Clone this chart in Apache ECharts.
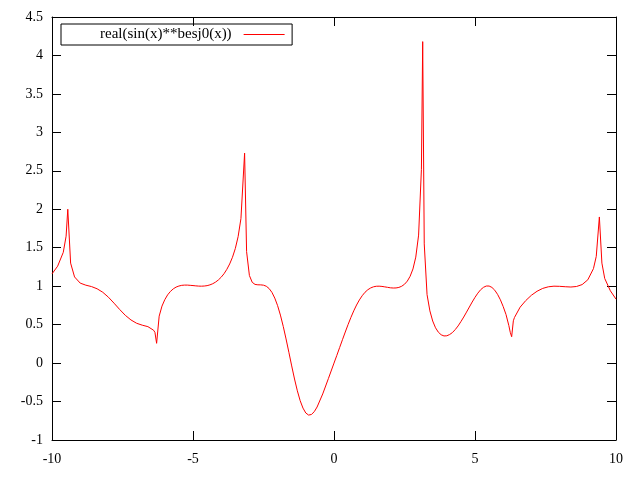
<!DOCTYPE html>
<html>
<head>
<meta charset="utf-8">
<script src="https://cdn.jsdelivr.net/npm/echarts@6/dist/echarts.min.js"></script>
<style>
html,body{margin:0;padding:0;background:#fff;}
#chart{width:640px;height:480px;}
</style>
</head>
<body>
<div id="chart"></div>
<script>
var seriesName = 'real(sin(x)**besj0(x))';
var xValues = [
  -10, -9.8, -9.6, -9.5, -9.44, -9.34, -9.2, -9.0, -8.8, -8.6, -8.4, -8.2, -8.0,
  -7.8, -7.6, -7.4, -7.2, -7.0, -6.8, -6.6, -6.4, -6.35, -6.29, -6.2, -6.1, -6.0,
  -5.9, -5.8, -5.7, -5.6, -5.5, -5.4, -5.3, -5.2, -5.1, -5.0, -4.9, -4.8, -4.7, -4.6,
  -4.5, -4.4, -4.3, -4.2, -4.1, -4.0, -3.9, -3.8, -3.7, -3.6, -3.5, -3.4,
  -3.3, -3.17, -3.1, -3.0, -2.9, -2.8, -2.7, -2.6, -2.5, -2.4, -2.3, -2.2, -2.1, -2.0,
  -1.9, -1.8, -1.7, -1.6, -1.5, -1.4, -1.3, -1.2, -1.1,
  -1.0, -0.9, -0.8, -0.7, -0.6, -0.4, -0.2, 0, 0.1, 0.2, 0.3, 0.4, 0.5, 0.6, 0.7, 0.8, 0.9,
  1.0, 1.1, 1.2, 1.3, 1.4, 1.5, 1.6, 1.7, 1.8, 1.9,
  2.0, 2.1, 2.2, 2.3, 2.4, 2.5, 2.6, 2.7, 2.8, 2.9, 3.0, 3.1, 3.145, 3.2, 3.3, 3.4, 3.5,
  3.6, 3.7, 3.8, 3.9, 4.0, 4.1, 4.2, 4.3, 4.4, 4.5, 4.6, 4.7, 4.8, 4.9, 5.0, 5.1, 5.2,
  5.3, 5.4, 5.5, 5.6, 5.7, 5.8, 5.9, 6.0, 6.1, 6.2, 6.25, 6.3, 6.36, 6.4,
  6.6, 6.8, 7.0, 7.2, 7.4, 7.6, 7.8, 8.0, 8.2, 8.4, 8.6, 8.8, 9.0, 9.2, 9.3,
  9.41, 9.5, 9.6, 9.8, 10
];
var yValues = [
  1.16, 1.26, 1.44, 1.65, 2.00, 1.30, 1.12, 1.04, 1.013, 0.995, 0.966, 0.921, 0.857,
  0.779, 0.697, 0.621, 0.561, 0.518, 0.493, 0.474, 0.428, 0.40, 0.257, 0.61, 0.741, 0.825,
  0.887, 0.932, 0.965, 0.988, 1.002, 1.011, 1.014, 1.014, 1.011, 1.008, 1.004, 1.001, 1.000, 1.002,
  1.007, 1.017, 1.032, 1.053, 1.081, 1.117, 1.162, 1.219, 1.289, 1.376, 1.489, 1.644,
  1.88, 2.73, 1.45, 1.139, 1.050, 1.023, 1.018, 1.017, 1.013, 0.999, 0.969, 0.919, 0.845, 0.747,
  0.624, 0.477, 0.314, 0.140, -0.037, -0.207, -0.360, -0.489, -0.585,
  -0.649, -0.676, -0.668, -0.632, -0.571, -0.401, -0.202, 0, 0.100, 0.202, 0.304, 0.404, 0.502, 0.594, 0.679, 0.755, 0.821,
  0.876, 0.921, 0.954, 0.977, 0.992, 0.999, 1.000, 0.997, 0.991, 0.985,
  0.979, 0.976, 0.977, 0.984, 0.999, 1.025, 1.066, 1.129, 1.224, 1.378, 1.664, 2.52, 4.18, 1.55, 0.89, 0.679, 0.547,
  0.459, 0.402, 0.368, 0.353, 0.355, 0.371, 0.397, 0.436, 0.483, 0.539, 0.599, 0.663, 0.729, 0.794, 0.855, 0.909, 0.954,
  0.985, 1.002, 1.002, 0.984, 0.948, 0.894, 0.823, 0.735, 0.631, 0.488, 0.40, 0.343, 0.55, 0.593,
  0.727, 0.813, 0.882, 0.934, 0.971, 0.992, 1.000, 0.998, 0.993, 0.989, 0.996, 1.021, 1.083, 1.228, 1.387,
  1.90, 1.30, 1.10, 0.94, 0.832
];
var xRange = {min: -10, max: 10, step: 5};
var yRange = {min: -1, max: 4.5, step: 0.5};

var points = xValues.map(function (x, i) { return [x, yValues[i]]; });
var font = 'Liberation Serif';
var axisCommon = function (pos, showLabel, margin) {
  return {
    type: 'value',
    position: pos,
    axisLine: {show: true, onZero: false, lineStyle: {color: '#000', width: 1}},
    axisTick: {show: true, inside: true, length: 9, lineStyle: {color: '#000', width: 1}},
    axisLabel: {show: showLabel, color: '#000', fontFamily: font, fontSize: 14, margin: margin},
    splitLine: {show: false}
  };
};
var xBottom = Object.assign(axisCommon('bottom', true, 12), {min: xRange.min, max: xRange.max, interval: xRange.step});
var xTop = Object.assign(axisCommon('top', false, 8), {min: xRange.min, max: xRange.max, interval: xRange.step});
var yLeft = Object.assign(axisCommon('left', true, 9), {min: yRange.min, max: yRange.max, interval: yRange.step});
var yRight = Object.assign(axisCommon('right', false, 8), {min: yRange.min, max: yRange.max, interval: yRange.step});

var chart = echarts.init(document.getElementById('chart'), null, {renderer: 'canvas'});
chart.setOption({
  animation: false,
  backgroundColor: '#fff',
  grid: {left: 52, right: 24, top: 17, bottom: 40, containLabel: false},
  legend: {
    show: true,
    left: 61,
    top: 24,
    align: 'right',
    itemWidth: 41,
    itemHeight: 14,
    padding: [3, 7, 3, 39],
    borderColor: '#000',
    borderWidth: 1,
    borderRadius: 0,
    itemStyle: {color: 'rgba(0,0,0,0)', borderWidth: 0, borderColor: 'rgba(0,0,0,0)'},
    lineStyle: {width: 1, color: '#ff0000'},
    textStyle: {color: '#000', fontFamily: font, fontSize: 15, padding: [0, 7, 0, 0]},
    data: [seriesName]
  },
  xAxis: [xBottom, xTop],
  yAxis: [yLeft, yRight],
  series: [{
    name: seriesName,
    type: 'line',
    xAxisIndex: 0,
    yAxisIndex: 0,
    data: points,
    showSymbol: false,
    symbol: 'none',
    smooth: false,
    lineStyle: {color: '#ff0000', width: 1},
    itemStyle: {color: '#ff0000'}
  }]
});
</script>
</body>
</html>
